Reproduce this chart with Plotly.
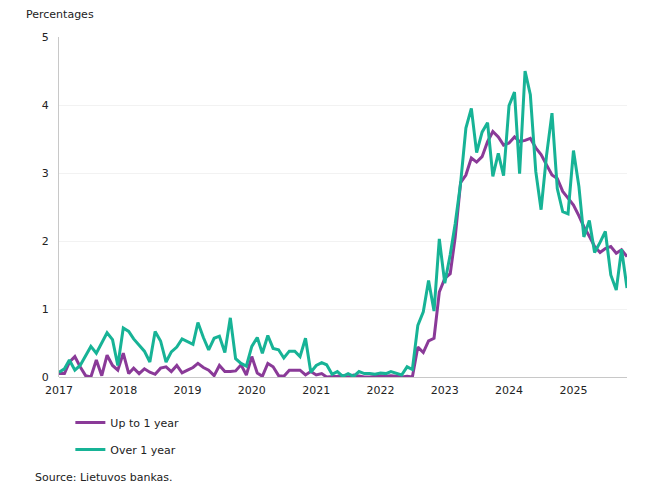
import pandas as pd
import plotly.graph_objects as go

# monthly values, January 2017 to November 2025
months = pd.date_range("2017-01-01", "2025-11-01", freq="MS")

up_to_1_year = [
    0.05, 0.05, 0.22, 0.30, 0.15, 0.02, 0.00, 0.25, 0.02, 0.32, 0.17, 0.10,
    0.35, 0.05, 0.13, 0.05, 0.12, 0.07, 0.04, 0.13, 0.15, 0.08, 0.17, 0.06,
    0.10, 0.14, 0.20, 0.14, 0.10, 0.02, 0.17, 0.08, 0.08, 0.09, 0.18, 0.03,
    0.30, 0.06, 0.01, 0.20, 0.15, 0.02, 0.01, 0.10, 0.10, 0.10, 0.03, 0.08,
    0.03, 0.05, 0.00, 0.00, 0.01, 0.02, 0.00, 0.03, 0.01, 0.00, 0.00, 0.01,
    0.02, 0.01, 0.02, 0.01, 0.00, 0.01, 0.00, 0.44, 0.36, 0.53, 0.57, 1.25,
    1.45, 1.52, 2.05, 2.86, 2.97, 3.22, 3.16, 3.24, 3.46, 3.61, 3.53, 3.41,
    3.44, 3.53, 3.46, 3.48, 3.51, 3.37, 3.27, 3.12, 2.97, 2.92, 2.73, 2.63,
    2.53, 2.37, 2.21, 2.07, 1.92, 1.83, 1.89, 1.92, 1.82, 1.87, 1.77,
]

over_1_year = [
    0.07, 0.12, 0.25, 0.10, 0.17, 0.32, 0.45, 0.35, 0.50, 0.65, 0.55, 0.17,
    0.72, 0.67, 0.56, 0.46, 0.38, 0.22, 0.67, 0.53, 0.22, 0.37, 0.44, 0.56,
    0.52, 0.48, 0.80, 0.58, 0.40, 0.57, 0.60, 0.36, 0.87, 0.27, 0.20, 0.16,
    0.45, 0.58, 0.35, 0.61, 0.42, 0.40, 0.28, 0.38, 0.38, 0.30, 0.57, 0.07,
    0.17, 0.21, 0.18, 0.04, 0.08, 0.01, 0.05, 0.01, 0.08, 0.05, 0.05, 0.04,
    0.06, 0.05, 0.08, 0.05, 0.03, 0.15, 0.11, 0.76, 0.96, 1.42, 0.97, 2.03,
    1.38, 1.80, 2.25, 2.85, 3.66, 3.95, 3.30, 3.60, 3.74, 2.95, 3.29, 2.96,
    3.99, 4.19, 2.99, 4.50, 4.15, 3.02, 2.46, 3.26, 3.88, 2.77, 2.43, 2.40,
    3.33, 2.80, 2.06, 2.30, 1.83, 1.98, 2.14, 1.50, 1.28, 1.88, 1.31,
]

year_ticks = pd.date_range("2017-01-01", "2025-01-01", freq="YS")
year_labels = [str(d.year) for d in year_ticks]

PURPLE = "#8a3a98"
TEAL = "#17b396"
FONT = "DejaVu Sans, Verdana, sans-serif"

fig = go.Figure()

fig.add_trace(go.Scatter(
    x=months, y=up_to_1_year, mode="lines", name="Up to 1 year",
    line=dict(color=PURPLE, width=3), legendgroup="a",
))
fig.add_trace(go.Scatter(
    x=months, y=over_1_year, mode="lines", name="Over 1 year",
    line=dict(color=TEAL, width=3), legendgroup="b",
))

# the page puts the figure 8px in from the top-left corner, so margins are trimmed by that much
fig.update_layout(
    width=642, height=492,
    margin=dict(l=51, r=23, t=29, b=123),
    paper_bgcolor="white", plot_bgcolor="white",
    font=dict(family=FONT, size=11, color="#222222"),
    showlegend=True,
    legend=dict(
        orientation="v", x=0.02, y=-0.091, xanchor="left", yanchor="top",
        font=dict(size=11), tracegroupgap=8, bgcolor="rgba(0,0,0,0)",
    ),
    xaxis=dict(
        range=[months[0], months[-1]],
        tickvals=year_ticks, ticktext=year_labels,
        showgrid=False, zeroline=False,
        showline=False, ticks="", ticklabelstandoff=5, tickfont=dict(size=11),
    ),
    yaxis=dict(
        range=[0, 5], dtick=1, tickformat="d",
        showgrid=True, gridcolor="#f2f2f2", gridwidth=1,
        zeroline=True, zerolinecolor="#c8c8c8", zerolinewidth=1,
        showline=True, linecolor="#c8c8c8", linewidth=1,
        ticks="", ticklabelstandoff=7, tickfont=dict(size=11),
    ),
    annotations=[
        dict(text="Percentages", xref="paper", yref="paper",
             x=-0.062, y=1.065, xanchor="left", yanchor="middle",
             showarrow=False, font=dict(size=11)),
        dict(text="Source: Lietuvos bankas.", xref="paper", yref="paper",
             x=-0.046, y=-0.297, xanchor="left", yanchor="middle",
             showarrow=False, font=dict(size=11)),
    ],
)

fig.write_html("out.html")
